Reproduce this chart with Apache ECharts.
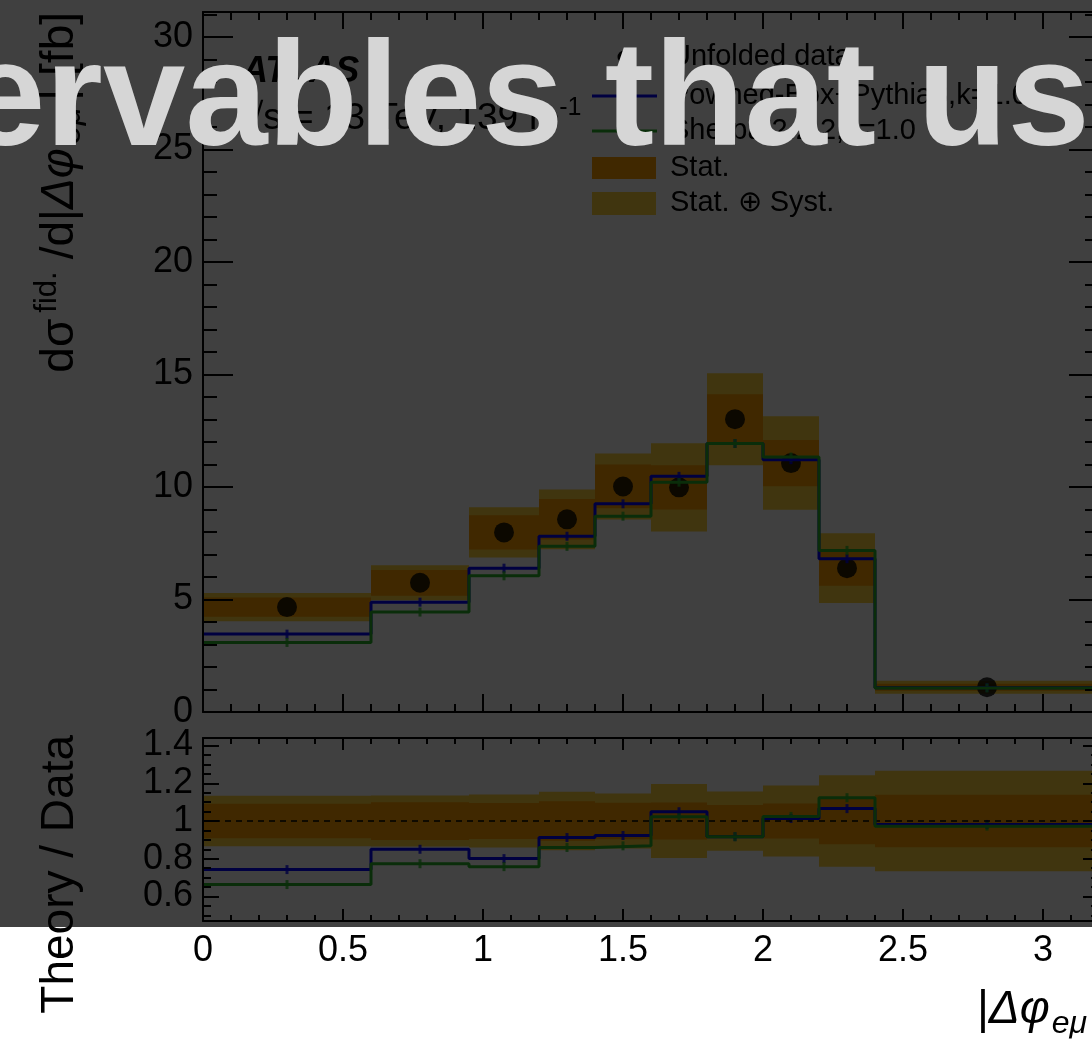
<!DOCTYPE html>
<html>
<head>
<meta charset="utf-8">
<script src="https://cdn.jsdelivr.net/npm/echarts@6/dist/echarts.min.js"></script>
<style>
html,body{margin:0;padding:0;background:#fff;}
#chart{width:1092px;height:1041px;}
</style>
</head>
<body>
<div id="chart"></div>
<script>
// |Δφ_eμ| bin edges
const binEdges = [0, 0.6, 0.95, 1.2, 1.4, 1.6, 1.8, 2.0, 2.2, 2.4, 3.2];
// Unfolded fiducial cross-section per bin [fb]
const dataValues = [4.66, 5.74, 7.98, 8.56, 10.02, 9.98, 13.01, 11.06, 6.39, 1.10];
// Relative statistical and total (stat ⊕ syst) uncertainties
const statRel = [0.092, 0.100, 0.095, 0.105, 0.097, 0.098, 0.085, 0.093, 0.123, 0.139];
const totalRel = [0.134, 0.135, 0.140, 0.155, 0.146, 0.196, 0.157, 0.188, 0.243, 0.266];
// Predictions [fb]
const powhegValues = [3.46, 4.88, 6.39, 7.81, 9.25, 10.47, 11.93, 11.21, 6.81, 1.08];
const sherpaValues = [3.09, 4.44, 6.05, 7.36, 8.70, 10.21, 11.93, 11.33, 7.18, 1.07];

// Tick positions and labels
const xMajorTicks = [0, 0.5, 1, 1.5, 2, 2.5, 3];
const xMinorTicks = [0, 0.1, 0.2, 0.3, 0.4, 0.5, 0.6, 0.7, 0.8, 0.9, 1.0, 1.1, 1.2, 1.3, 1.4, 1.5,
  1.6, 1.7, 1.8, 1.9, 2.0, 2.1, 2.2, 2.3, 2.4, 2.5, 2.6, 2.7, 2.8, 2.9, 3.0, 3.1, 3.2];
const yMainMajorTicks = [0, 5, 10, 15, 20, 25, 30];
const yMainMinorTicks = [0, 1, 2, 3, 4, 5, 6, 7, 8, 9, 10, 11, 12, 13, 14, 15, 16, 17, 18, 19, 20,
  21, 22, 23, 24, 25, 26, 27, 28, 29, 30, 31];
const yRatioMajorTicks = [0.6, 0.8, 1.0, 1.2, 1.4];
const yRatioMinorTicks = [0.5, 0.55, 0.6, 0.65, 0.7, 0.75, 0.8, 0.85, 0.9, 0.95, 1.0, 1.05, 1.1,
  1.15, 1.2, 1.25, 1.3, 1.35, 1.4];

const names = {
  data: 'Unfolded data',
  powheg: 'Powheg-Box+Pythia8,k=1.0',
  sherpa: 'Sherpa 2.2.2,k=1.0',
  stat: 'Stat.',
  syst: 'Stat. \u2295 Syst.'
};

const FONT = '"Liberation Sans", Arial, Helvetica, sans-serif';
const colors = {
  stat: '#ffa000',
  syst: '#ffd23c',
  powheg: '#0000ff',
  sherpa: '#28b428'
};

const X_MIN = binEdges[0], X_MAX = binEdges[binEdges.length - 1];
const Y_MAIN = [0, 31.1];
const Y_RATIO = [0.47, 1.44];

const centers = dataValues.map((_, i) => (binEdges[i] + binEdges[i + 1]) / 2);

function stepPoints(vals) {
  const pts = vals.map((v, i) => [binEdges[i], v]);
  pts.push([X_MAX, vals[vals.length - 1]]);
  return pts;
}
function bandRows(center, rel) {
  return center.map((v, i) => [binEdges[i], binEdges[i + 1], v * (1 - rel[i]), v * (1 + rel[i])]);
}
const ones = dataValues.map(() => 1);
const ratioPowheg = powhegValues.map((v, i) => v / dataValues[i]);
const ratioSherpa = sherpaValues.map((v, i) => v / dataValues[i]);

function renderBand(params, api) {
  const p1 = api.coord([api.value(0), api.value(3)]);
  const p2 = api.coord([api.value(1), api.value(2)]);
  const cs = params.coordSys;
  const rect = echarts.graphic.clipRectByRect(
    { x: p1[0], y: p1[1], width: p2[0] - p1[0], height: p2[1] - p1[1] },
    { x: cs.x, y: cs.y, width: cs.width, height: cs.height }
  );
  if (!rect) return;
  return { type: 'rect', shape: rect, style: { fill: api.visual('color') } };
}

function axis(grid, pos, range, ticks, len, showLine, labels, margin) {
  return {
    type: 'value', gridIndex: grid, position: pos, min: range[0], max: range[1], z: 10,
    axisLine: { show: showLine, onZero: false, lineStyle: { color: '#000', width: 2 } },
    splitLine: { show: false },
    axisTick: { show: true, inside: true, length: len, customValues: ticks,
      lineStyle: { color: '#000', width: 2 } },
    axisLabel: labels ? { show: true, customValues: labels, color: '#000', fontSize: 36,
      fontFamily: FONT, margin: margin, showMinLabel: true, showMaxLabel: true } : { show: false },
    silent: true
  };
}

const xRange = [X_MIN, X_MAX];
const xAxes = [
  axis(0, 'bottom', xRange, xMajorTicks, 18, true),
  axis(0, 'bottom', xRange, xMinorTicks, 8, false),
  axis(0, 'top', xRange, xMajorTicks, 17, true),
  axis(0, 'top', xRange, xMinorTicks, 8, false),
  axis(1, 'bottom', xRange, xMajorTicks, 12, true, xMajorTicks, 12),
  axis(1, 'bottom', xRange, xMinorTicks, 6, false),
  axis(1, 'top', xRange, xMajorTicks, 12, true),
  axis(1, 'top', xRange, xMinorTicks, 6, false)
];
const yAxes = [
  axis(0, 'left', Y_MAIN, yMainMajorTicks, 30, true, yMainMajorTicks, 10),
  axis(0, 'left', Y_MAIN, yMainMinorTicks, 14, false),
  axis(0, 'right', Y_MAIN, yMainMajorTicks, 30, true),
  axis(0, 'right', Y_MAIN, yMainMinorTicks, 14, false),
  axis(1, 'left', Y_RATIO, yRatioMajorTicks, 16, true, yRatioMajorTicks, 10),
  axis(1, 'left', Y_RATIO, yRatioMinorTicks, 8, false),
  axis(1, 'right', Y_RATIO, yRatioMajorTicks, 16, true),
  axis(1, 'right', Y_RATIO, yRatioMinorTicks, 8, false)
];

function bandSeries(name, rows, color, xi, yi) {
  return { type: 'custom', name: name, xAxisIndex: xi, yAxisIndex: yi, data: rows,
    encode: { x: [0, 1], y: [2, 3] }, renderItem: renderBand, itemStyle: { color: color },
    silent: true };
}
function stepSeries(name, vals, color, xi, yi) {
  return { type: 'line', name: name, xAxisIndex: xi, yAxisIndex: yi, data: stepPoints(vals),
    step: 'end', symbol: 'none', lineStyle: { color: color, width: 3 }, itemStyle: { color: color },
    silent: true };
}
function markerSeries(name, vals, color, xi, yi) {
  return { type: 'scatter', name: name, xAxisIndex: xi, yAxisIndex: yi,
    data: vals.map((v, i) => [centers[i], v]), symbol: 'rect', symbolSize: [3, 9],
    itemStyle: { color: color }, silent: true };
}

const series = [
  // upper panel
  bandSeries(names.syst, bandRows(dataValues, totalRel), colors.syst, 0, 0),
  bandSeries(names.stat, bandRows(dataValues, statRel), colors.stat, 0, 0),
  { type: 'scatter', name: names.data, xAxisIndex: 0, yAxisIndex: 0,
    data: dataValues.map((v, i) => [centers[i], v]), symbol: 'circle', symbolSize: 20,
    itemStyle: { color: '#000' }, silent: true },
  stepSeries(names.powheg, powhegValues, colors.powheg, 0, 0),
  stepSeries(names.sherpa, sherpaValues, colors.sherpa, 0, 0),
  markerSeries(names.powheg, powhegValues, colors.powheg, 0, 0),
  markerSeries(names.sherpa, sherpaValues, colors.sherpa, 0, 0),
  // ratio panel
  bandSeries(names.syst, bandRows(ones, totalRel), colors.syst, 4, 4),
  bandSeries(names.stat, bandRows(ones, statRel), colors.stat, 4, 4),
  { type: 'line', name: 'unity', xAxisIndex: 4, yAxisIndex: 4, data: [[X_MIN, 1], [X_MAX, 1]],
    symbol: 'none', lineStyle: { color: '#000', width: 1.5, type: [6, 5] }, silent: true },
  stepSeries(names.powheg, ratioPowheg, colors.powheg, 4, 4),
  stepSeries(names.sherpa, ratioSherpa, colors.sherpa, 4, 4),
  markerSeries(names.powheg, ratioPowheg, colors.powheg, 4, 4),
  markerSeries(names.sherpa, ratioSherpa, colors.sherpa, 4, 4)
];

// Legend block (icon column at x 592..656, text column at x 670)
function legendText(label, y) {
  return { type: 'text', x: 670, y: y, z: 20, silent: true,
    style: { text: label, fill: '#000', font: '29px ' + FONT, verticalAlign: 'middle' } };
}
const legendElements = [
  { type: 'circle', z: 20, silent: true, shape: { cx: 624, cy: 57, r: 6.5 }, style: { fill: '#000' } },
  legendText(names.data, 57),
  { type: 'line', z: 20, silent: true, shape: { x1: 592, y1: 96, x2: 657, y2: 96 },
    style: { stroke: colors.powheg, lineWidth: 3 } },
  legendText(names.powheg, 96),
  { type: 'line', z: 20, silent: true, shape: { x1: 592, y1: 131, x2: 657, y2: 131 },
    style: { stroke: colors.sherpa, lineWidth: 3 } },
  legendText(names.sherpa, 131),
  { type: 'rect', z: 20, silent: true, shape: { x: 592, y: 157, width: 64, height: 22 },
    style: { fill: colors.stat } },
  legendText(names.stat, 168),
  { type: 'rect', z: 20, silent: true, shape: { x: 592, y: 192, width: 64, height: 23 },
    style: { fill: colors.syst } },
  legendText(names.syst, 203)
];

const option = {
  animation: false,
  backgroundColor: '#ffffff',
  grid: [
    { left: 203, top: 12, width: 896, height: 700, outerBoundsMode: 'none', containLabel: false },
    { left: 203, top: 738, width: 896, height: 183, outerBoundsMode: 'none', containLabel: false }
  ],
  xAxis: xAxes,
  yAxis: yAxes,
  series: series,
  graphic: { elements: legendElements.concat([
    { type: 'text', x: 242, y: 72, z: 20, silent: true,
      style: { text: 'ATLAS', fill: '#000', font: 'italic bold 36px ' + FONT, verticalAlign: 'middle' } },
    { type: 'text', x: 243, y: 119, z: 20, silent: true,
      style: { text: '{n|\u221As = 13 TeV, 139 fb}{p|-1}', fill: '#000', verticalAlign: 'middle',
        rich: { n: { fontSize: 37, fontFamily: FONT, lineHeight: 46, fill: '#000' },
                p: { fontSize: 25, fontFamily: FONT, lineHeight: 25, verticalAlign: 'top', fill: '#000' } } } },
    // y-axis title, upper panel
    { type: 'text', x: 60, y: 12, rotation: Math.PI / 2, z: 20, silent: true,
      style: { text: '{m|d\u03c3}{s|fid.}{m|/d|}{i|\u0394\u03c6}{b|e\u03bc}{m|| [fb]}', fill: '#000',
        align: 'right', verticalAlign: 'middle',
        rich: { m: { fontSize: 46, fontFamily: FONT, lineHeight: 56, fill: '#000' },
                i: { fontSize: 46, fontFamily: FONT, fontStyle: 'italic', lineHeight: 56, fill: '#000' },
                s: { fontSize: 31, fontFamily: FONT, lineHeight: 31, verticalAlign: 'top', fill: '#000',
                     padding: [0, 12, 0, 6] },
                b: { fontSize: 34, fontFamily: FONT, fontStyle: 'italic', lineHeight: 34, verticalAlign: 'bottom',
                     fill: '#000', padding: [0, 6, 0, 4] } } } },
    // y-axis title, ratio panel
    { type: 'text', x: 60, y: 735, rotation: Math.PI / 2, z: 20, silent: true,
      style: { text: 'Theory / Data', fill: '#000', font: '46px ' + FONT, align: 'right', verticalAlign: 'middle' } },
    // x-axis title
    { type: 'text', x: 1101, y: 1010, z: 20, silent: true,
      style: { text: '{m||}{i|\u0394\u03c6}{b|e\u03bc}{m||}', fill: '#000', align: 'right', verticalAlign: 'middle',
        rich: { m: { fontSize: 46, fontFamily: FONT, lineHeight: 60, fill: '#000' },
                i: { fontSize: 46, fontFamily: FONT, fontStyle: 'italic', lineHeight: 60, fill: '#000' },
                b: { fontSize: 32, fontFamily: FONT, fontStyle: 'italic', lineHeight: 32, verticalAlign: 'bottom',
                     fill: '#000', padding: [0, 2, 0, 2] } } } },
    // dimming layer and caption
    { type: 'rect', x: 0, y: 0, z: 100, silent: true,
      shape: { width: 1092, height: 927 }, style: { fill: 'rgba(0,0,0,0.75)' } },
    { type: 'text', x: -37, y: 104, z: 101, silent: true,
      style: { text: 'ervables that use', fill: '#d6d6d6', font: 'bold 148px ' + FONT, verticalAlign: 'middle' } }
  ]) }
};

const chart = echarts.init(document.getElementById('chart'), null, { renderer: 'canvas', width: 1092, height: 1041 });
chart.setOption(option);
</script>
</body>
</html>
